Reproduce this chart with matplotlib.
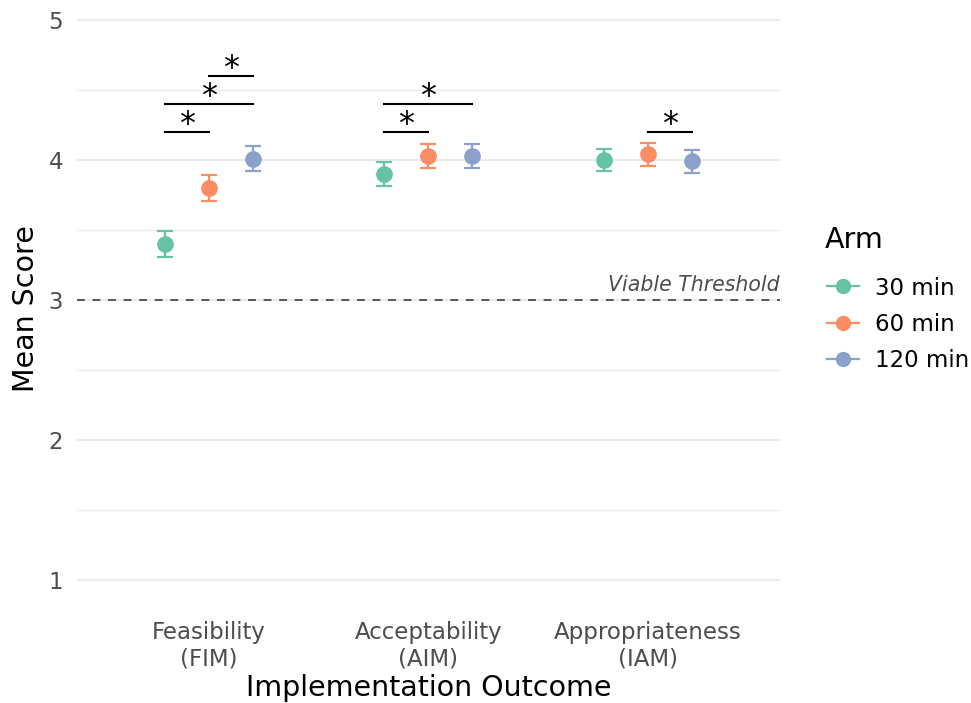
import numpy as np
import matplotlib.pyplot as plt
from matplotlib.lines import Line2D

# %% Data

outcomes = ['Feasibility\n(FIM)', 'Acceptability\n(AIM)', 'Appropriateness\n(IAM)']
arms = ['30 min', '60 min', '120 min']
colors = ['#66C2A5', '#FC8D62', '#8DA0CB']

mean_30 = [3.40, 3.90, 4.00]
mean_60 = [3.80, 4.03, 4.04]
mean_120 = [4.01, 4.03, 3.99]
se_30 = [0.09, 0.085, 0.08]
se_60 = [0.09, 0.085, 0.08]
se_120 = [0.09, 0.085, 0.08]

# significance brackets: (outcome index, arm from, arm to, height)
brackets = [
    (0, 0, 1, 4.2),
    (0, 0, 2, 4.4),
    (0, 1, 2, 4.6),
    (1, 0, 1, 4.2),
    (1, 0, 2, 4.4),
    (2, 1, 2, 4.2),
]

threshold = 3.0

# %% Plot

plt.rcParams['font.family'] = 'DejaVu Sans'
fig = plt.figure(figsize=(9.71, 7.03), dpi=100)
ax = fig.add_axes([0.0793, 0.135, 0.803 - 0.0793, 0.9875 - 0.135])

x = np.arange(1, len(outcomes) + 1)
dodge = 0.2
offsets = [-dodge, 0, dodge]
means = [mean_30, mean_60, mean_120]
ses = [se_30, se_60, se_120]

for i in range(len(arms)):
    ax.errorbar(x + offsets[i], means[i], yerr=ses[i], fmt='o', color=colors[i],
                markersize=11, elinewidth=1.6, capsize=6, capthick=1.6, zorder=3)

ax.axhline(threshold, color='#555555', linestyle=(0, (4, 4)), linewidth=1.4, zorder=2)
ax.text(3.6, threshold + 0.035, 'Viable Threshold', ha='right', va='bottom',
        fontsize=14.8, style='italic', color='#4D4D4D')

for k, a, b, h in brackets:
    x0 = x[k] + offsets[a]
    x1 = x[k] + offsets[b]
    ax.plot([x0, x1], [h, h], color='black', linewidth=1.5, zorder=3)
    ax.text((x0 + x1) / 2, h - 0.06, '*', ha='center', va='bottom', fontsize=23)

ax.set_xlim(0.4, 3.6)
ax.set_ylim(0.8, 5.08)
ax.set_yticks([1, 2, 3, 4, 5])
ax.set_yticks([1.5, 2.5, 3.5, 4.5], minor=True)
ax.set_xticks(x)
ax.set_xticklabels(outcomes)
ax.grid(axis='y', which='major', color='#EBEBEB', linewidth=1.6, zorder=0)
ax.grid(axis='y', which='minor', color='#EBEBEB', linewidth=0.9, zorder=0)
ax.set_axisbelow(True)
for s in ax.spines.values():
    s.set_visible(False)
ax.tick_params(axis='both', which='both', length=0, labelsize=16.5, labelcolor='#4D4D4D')
ax.tick_params(axis='x', pad=9)
ax.tick_params(axis='y', pad=10)

ax.set_xlabel('Implementation Outcome', fontsize=20.5)
ax.xaxis.set_label_coords(0.5, -0.1336)
ax.xaxis.label.set_va('center')
ax.set_ylabel('Mean Score', fontsize=20.5, labelpad=6)

# legend, title drawn separately to get ggplot-like spacing
fig.text(825 / 971, 1 - 240 / 703, 'Arm', fontsize=20.5, ha='left', va='center')
handles = [Line2D([], [], color=c, marker='o', markersize=10, linewidth=1.6)
           for c in colors]
leg = fig.legend(handles, arms, loc='upper left',
                 bbox_to_anchor=(0.83, 0.636), frameon=False,
                 fontsize=16.5, handlelength=1.4,
                 handletextpad=0.7, labelspacing=0.57)

fig.savefig('out.png', dpi=100)
